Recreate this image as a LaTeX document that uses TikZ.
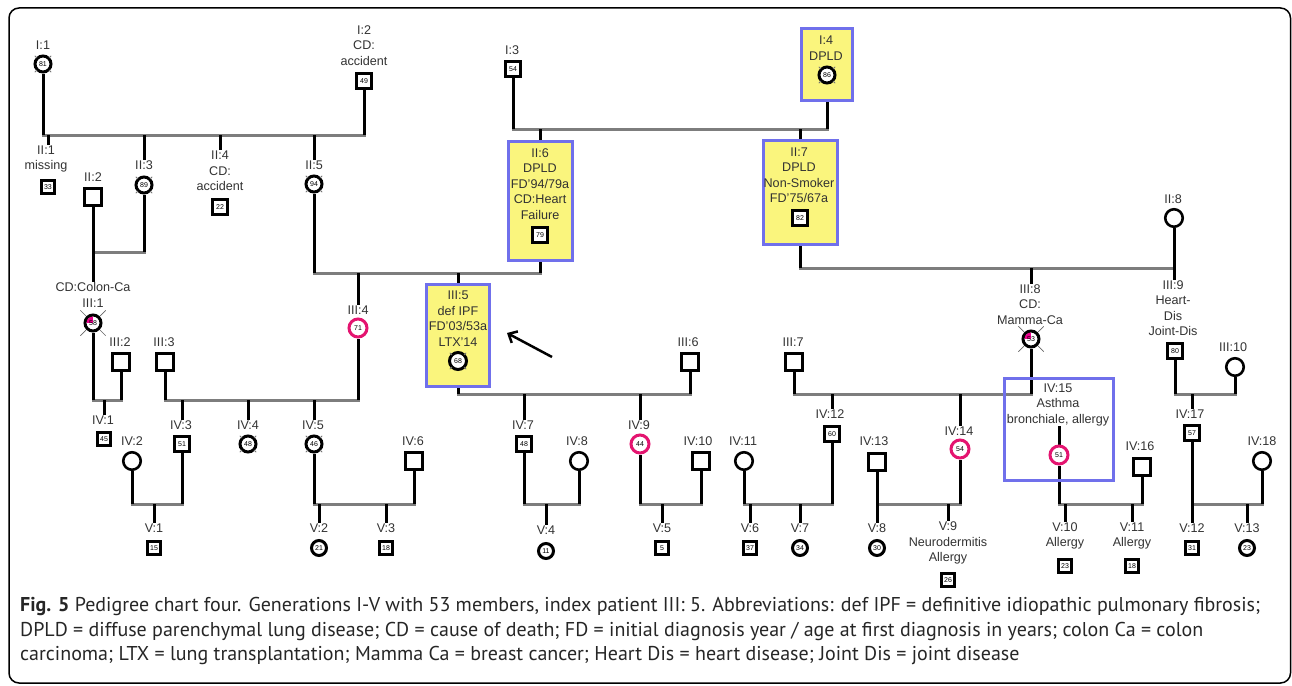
\documentclass[tikz,border=0pt]{standalone}
\usepackage{fontspec}
\setmainfont{Liberation Sans}
\newfontfamily\capfont{PT Sans}
\usetikzlibrary{arrows.meta,calc,backgrounds}
\definecolor{lnGray}{RGB}{125,125,125}
\definecolor{txt}{RGB}{50,50,50}
\definecolor{boxYellow}{RGB}{250,245,125}
\definecolor{boxBlue}{RGB}{112,112,235}
\definecolor{pinkC}{RGB}{228,20,112}
\newcommand\gear[1]{\foreach \a in {45,135,225,315}{\draw[gtk] ($(#1.center)+(\a:8.5)$) -- ($(#1.center)+(\a:11.5)$);}}
\newcommand\longtk[1]{\foreach \a in {45,135,225,315}{\draw[ltk] ($(#1.center)+(\a:10)$) -- ($(#1.center)+(\a:18)$);}}
\begin{document}
\begin{tikzpicture}[x=1pt,y=-1pt,
  vl/.style={line width=3pt,black},
  hl/.style={line width=3pt,lnGray,line cap=rect},
  lb/.style={font=\fontsize{12.6}{15.5}\selectfont,text=txt,inner sep=0.5pt,align=center},
  num/.style={font=\fontsize{7}{7}\selectfont,inner sep=0},
  sqo/.style={draw,line width=2.6pt,minimum size=16.5pt,inner sep=0,fill=white},
  sqn/.style={draw,line width=3pt,minimum size=15pt,inner sep=0,fill=white,font=\fontsize{7}{7}\selectfont},
  cio/.style={circle,draw,line width=2.6pt,minimum size=17.5pt,inner sep=0,fill=white},
  cin/.style={circle,draw,line width=3pt,minimum size=16pt,inner sep=0,fill=white,font=\fontsize{7}{7}\selectfont},
  cip/.style={cin,draw=pinkC,minimum size=18pt},
  ybox/.style={draw=boxBlue,fill=boxYellow,line width=3pt,inner sep=0},
  wbox/.style={draw=boxBlue,line width=3pt,inner sep=0},
  gtk/.style={line width=1pt,black!55},
  ltk/.style={line width=0.7pt,black!60},
  frame/.style={line width=1.5pt,rounded corners=10pt}]
\useasboundingbox (0,0) rectangle (1292,685);
\draw[frame] (9,8) rectangle (1290.5,683);

\coordinate (r129) at (0,129);
\coordinate (r135) at (0,135);
\coordinate (r252) at (0,252);
\coordinate (r268) at (0,268);
\coordinate (r273) at (0,273);
\coordinate (r394) at (0,394);
\coordinate (r400) at (0,400);
\coordinate (r504) at (0,504);

% ---------- Generation I
\node[lb] (lI1) at (43,45) {I:1};
\node[cin] (I1) at (43,64) {81};
\node[lb] (lI2) at (364,45.5) {I:2\\CD:\\accident};
\node[sqn] (I2) at (364,81) {49};
\node[lb] (lI3) at (512,50) {I:3};
\node[sqn] (I3) at (513,69) {54};
\node[ybox,minimum width=51,minimum height=72] (bI4) at (827,64.5) {};
\node[lb] (lI4) at (826,48) {I:4\\DPLD};
\node[cin] (I4) at (827,75) {86};

% ---------- Generation II
\node[lb] (lII1) at (46,159) {II:1\\missing};
\node[sqn,minimum size=13pt] (II1) at (48,187) {33};
\node[lb] (lII2) at (93,177) {II:2};
\node[sqo] (II2) at (93,197) {};
\node[lb] (lII3) at (144,165) {II:3};
\node[cin] (II3) at (144,185) {89};
\node[lb] (lII4) at (220,171) {II:4\\CD:\\accident};
\node[sqn] (II4) at (220,207) {22};
\node[lb] (lII5) at (314,165) {II:5};
\node[cin] (II5) at (314,184) {94};
\node[ybox,minimum width=64,minimum height=119] (bII6) at (540,201) {};
\node[lb] (lII6) at (540,184) {II:6\\DPLD\\FD'94/79a\\CD:Heart\\Failure};
\node[sqn] (II6) at (540,235) {79};
\node[ybox,minimum width=74,minimum height=104] (bII7) at (800,192.5) {};
\node[lb] (lII7) at (799,175) {II:7\\DPLD\\Non-Smoker\\FD'75/67a};
\node[sqn] (II7) at (800,218) {82};
\node[lb] (lII8) at (1173,199) {II:8};
\node[cio] (II8) at (1174,218) {};

% ---------- Generation III
\node[lb] (lIII1) at (93,295) {CD:Colon-Ca\\III:1};
\node[cin] (III1) at (93,323) {};
\begin{scope}
\clip (93,323) circle (6.5);
\fill[magenta] (93,323) rectangle ++(-8,-8);
\end{scope}
\node[num] (nIII1) at (III1.center) {58};
\node[lb] (lIII2) at (120,342) {III:2};
\node[sqo] (III2) at (121,362) {};
\node[lb] (lIII3) at (164,342) {III:3};
\node[sqo] (III3) at (165,362) {};
\node[lb] (lIII4) at (358,310) {III:4};
\node[cip] (III4) at (358,328) {71};
\node[ybox,minimum width=63,minimum height=102] (bIII5) at (458,335.5) {};
\node[lb] (lIII5) at (458,318.5) {III:5\\def IPF\\FD'03/53a\\LTX'14};
\node[cin,minimum size=17pt] (III5) at (458,361) {68};
\coordinate (arT) at (552,357);
\coordinate (arH) at (507,333);
\node[lb] (lIII6) at (688,342) {III:6};
\node[sqo] (III6) at (690,362) {};
\node[lb] (lIII7) at (793,342) {III:7};
\node[sqo] (III7) at (794,362) {};
\node[lb] (lIII8) at (1030,304.5) {III:8\\CD:\\Mamma-Ca};
\node[cin] (III8) at (1031,339) {};
\begin{scope}
\clip (1031,339) circle (6.5);
\fill[magenta] (1031,339) rectangle ++(-8,-8);
\end{scope}
\node[num] (nIII8) at (III8.center) {53};
\node[lb] (lIII9) at (1173,308) {III:9\\Heart-\\Dis\\Joint-Dis};
\node[sqn] (III9) at (1175,351) {80};
\node[lb] (lIII10) at (1233,347) {III:10};
\node[cio] (III10) at (1235,367) {};

% ---------- Generation IV
\node[lb] (lIV1) at (103,420) {IV:1};
\node[sqn,minimum size=13pt] (IV1) at (104,439) {45};
\node[lb] (lIV2) at (132,441) {IV:2};
\node[cio] (IV2) at (132,461) {};
\node[lb] (lIV3) at (181,425) {IV:3};
\node[sqn] (IV3) at (182,444) {51};
\node[lb] (lIV4) at (248,425) {IV:4};
\node[cin] (IV4) at (248,444) {48};
\node[lb] (lIV5) at (313,425) {IV:5};
\node[cin] (IV5) at (314,444) {46};
\node[lb] (lIV6) at (413,441) {IV:6};
\node[sqo] (IV6) at (414,461) {};
\node[lb] (lIV7) at (523,425) {IV:7};
\node[sqn] (IV7) at (524,444) {48};
\node[lb] (lIV8) at (577,441) {IV:8};
\node[cio] (IV8) at (579,461) {};
\node[lb] (lIV9) at (639,425) {IV:9};
\node[cip] (IV9) at (640,444) {44};
\node[lb] (lIV10) at (698,441) {IV:10};
\node[sqo] (IV10) at (701,461) {};
\node[lb] (lIV11) at (743,441) {IV:11};
\node[cio] (IV11) at (744,461) {};
\node[lb] (lIV12) at (830,414) {IV:12};
\node[sqn] (IV12) at (832,434) {60};
\node[lb] (lIV13) at (874,441) {IV:13};
\node[sqo] (IV13) at (877,462) {};
\node[lb] (lIV14) at (959,431) {IV:14};
\node[cip] (IV14) at (960,449) {54};
\node[wbox,minimum width=109,minimum height=102] (bIV15) at (1059,429.5) {};
\node[lb] (lIV15) at (1058,404.5) {IV:15\\Asthma\\bronchiale, allergy};
\node[cip] (IV15) at (1059,455) {51};
\node[lb] (lIV16) at (1140,446) {IV:16};
\node[sqo] (IV16) at (1142,467) {};
\node[lb] (lIV17) at (1190,414) {IV:17};
\node[sqn] (IV17) at (1192,433) {57};
\node[lb] (lIV18) at (1262,441) {IV:18};
\node[cio] (IV18) at (1262,461) {};

% ---------- Generation V
\node[lb] (lV1) at (154,528) {V:1};
\node[sqn,minimum size=13pt] (V1) at (154,548) {15};
\node[lb] (lV2) at (319,528) {V:2};
\node[cin,minimum size=15pt] (V2) at (319,548) {21};
\node[lb] (lV3) at (386,528) {V:3};
\node[sqn,minimum size=13pt] (V3) at (386,548) {18};
\node[lb] (lV4) at (546,530) {V:4};
\node[cin,minimum size=15pt] (V4) at (546,551) {11};
\node[lb] (lV5) at (662,528) {V:5};
\node[sqn,minimum size=13pt] (V5) at (662,548) {5};
\node[lb] (lV6) at (750,528) {V:6};
\node[sqn,minimum size=13pt] (V6) at (750,548) {37};
\node[lb] (lV7) at (800,528) {V:7};
\node[cin,minimum size=15pt] (V7) at (800,548) {34};
\node[lb] (lV8) at (877,528) {V:8};
\node[cin,minimum size=15pt] (V8) at (877,548) {30};
\node[lb] (lV9) at (948,543) {V:9\\Neurodermitis\\Allergy};
\node[sqn,minimum size=13pt] (V9) at (948,580) {26};
\node[lb] (lV10) at (1065,536) {V:10\\Allergy};
\node[sqn,minimum size=13pt] (V10) at (1065,566) {23};
\node[lb] (lV11) at (1132,536) {V:11\\Allergy};
\node[sqn,minimum size=13pt] (V11) at (1132,566) {18};
\node[lb] (lV12) at (1192,528) {V:12};
\node[sqn,minimum size=13pt] (V12) at (1192,548) {31};
\node[lb] (lV13) at (1247,528) {V:13};
\node[cin,minimum size=15pt] (V13) at (1247,548) {23};

% deceased marks
\gear{I1} \gear{I4} \gear{II3} \gear{II5} \gear{III5} \gear{IV4} \gear{IV5}
\longtk{III1} \longtk{III8}

% proband arrow
\draw[line width=2.5pt,-{Straight Barb[length=7pt,width=13pt]}] (arT) -- (arH);

% ---------- connectors
\begin{scope}[on background layer]
% gen I
\draw[hl] (I1.south |- r135) -- (I2.south |- r135);
\draw[vl] (I1.south) -- (I1.south |- r135);
\draw[vl] (I2.south) -- (I2.south |- r135);
\draw[hl] (I3.south |- r129) -- (bI4.south |- r129);
\draw[vl] (I3.south) -- (I3.south |- r129);
\draw[vl] (bI4.south) -- (bI4.south |- r129);
\draw[vl] (II1 |- r135) -- (II1 |- lII1.north);
\draw[vl] (II3 |- r135) -- (II3 |- lII3.north);
\draw[vl] (II4 |- r135) -- (II4 |- lII4.north);
\draw[vl] (II5 |- r135) -- (II5 |- lII5.north);
\draw[vl] (bII6.north |- r129) -- (bII6.north);
\draw[vl] (bII7.north |- r129) -- (bII7.north);
% gen II couples
\draw[hl] (II2.south |- r252) -- (II3.south |- r252);
\draw[vl] (II2.south) -- (II2.south |- lIII1.north);
\draw[vl] (II3.south) -- (II3.south |- r252);
\draw[hl] (II5.south |- r273) -- (bII6.south |- r273);
\draw[vl] (II5.south) -- (II5.south |- r273);
\draw[vl] (bII6.south) -- (bII6.south |- r273);
\draw[vl] (III4 |- r273) -- (III4 |- lIII4.north);
\draw[vl] (bIII5.north |- r273) -- (bIII5.north);
\draw[hl] (bII7.south |- r268) -- (II8.south |- r268);
\draw[vl] (bII7.south) -- (bII7.south |- r268);
\draw[vl] (II8.south) -- (II8.south |- lIII9.north);
\draw[vl] (III8 |- r268) -- (III8 |- lIII8.north);
% gen III couples
\draw[hl] (III1.south |- r400) -- (III2.south |- r400);
\draw[vl] (III1.south) -- (III1.south |- r400);
\draw[vl] (III2.south) -- (III2.south |- r400);
\draw[vl] (IV1 |- r400) -- (IV1 |- lIV1.north);
\draw[hl] (III3.south |- r400) -- (III4.south |- r400);
\draw[vl] (III3.south) -- (III3.south |- r400);
\draw[vl] (III4.south) -- (III4.south |- r400);
\draw[vl] (IV3 |- r400) -- (IV3 |- lIV3.north);
\draw[vl] (IV4 |- r400) -- (IV4 |- lIV4.north);
\draw[vl] (IV5 |- r400) -- (IV5 |- lIV5.north);
\draw[hl] (bIII5.south |- r394) -- (III6.south |- r394);
\draw[vl] (bIII5.south) -- (bIII5.south |- r394);
\draw[vl] (III6.south) -- (III6.south |- r394);
\draw[vl] (IV7 |- r394) -- (IV7 |- lIV7.north);
\draw[vl] (IV9 |- r394) -- (IV9 |- lIV9.north);
\draw[hl] (III7.south |- r394) -- (III8.south |- r394);
\draw[vl] (III7.south) -- (III7.south |- r394);
\draw[vl] (III8.south) -- (III8.south |- r394);
\draw[vl] (IV12 |- r394) -- (IV12 |- lIV12.north);
\draw[vl] (IV14 |- r394) -- (IV14 |- lIV14.north);
\draw[vl] (IV15 |- lIV15.south) -- (IV15.north);
\draw[hl] (III9.south |- r394) -- (III10.south |- r394);
\draw[vl] (III9.south) -- (III9.south |- r394);
\draw[vl] (III10.south) -- (III10.south |- r394);
\draw[vl] (IV17 |- r394) -- (IV17 |- lIV17.north);
% gen IV couples
\draw[hl] (IV2.south |- r504) -- (IV3.south |- r504);
\draw[vl] (IV2.south) -- (IV2.south |- r504);
\draw[vl] (IV3.south) -- (IV3.south |- r504);
\draw[vl] (V1 |- r504) -- (V1 |- lV1.north);
\draw[hl] (IV5.south |- r504) -- (IV6.south |- r504);
\draw[vl] (IV5.south) -- (IV5.south |- r504);
\draw[vl] (IV6.south) -- (IV6.south |- r504);
\draw[vl] (V2 |- r504) -- (V2 |- lV2.north);
\draw[vl] (V3 |- r504) -- (V3 |- lV3.north);
\draw[hl] (IV7.south |- r504) -- (IV8.south |- r504);
\draw[vl] (IV7.south) -- (IV7.south |- r504);
\draw[vl] (IV8.south) -- (IV8.south |- r504);
\draw[vl] (V4 |- r504) -- (V4 |- lV4.north);
\draw[hl] (IV9.south |- r504) -- (IV10.south |- r504);
\draw[vl] (IV9.south) -- (IV9.south |- r504);
\draw[vl] (IV10.south) -- (IV10.south |- r504);
\draw[vl] (V5 |- r504) -- (V5 |- lV5.north);
\draw[hl] (IV11.south |- r504) -- (IV12.south |- r504);
\draw[vl] (IV11.south) -- (IV11.south |- r504);
\draw[vl] (IV12.south) -- (IV12.south |- r504);
\draw[vl] (V6 |- r504) -- (V6 |- lV6.north);
\draw[vl] (V7 |- r504) -- (V7 |- lV7.north);
\draw[hl] (IV13.south |- r504) -- (IV14.south |- r504);
\draw[vl] (IV13.south) -- (IV13.south |- lV8.north);
\draw[vl] (IV14.south) -- (IV14.south |- r504);
\draw[vl] (V9 |- r504) -- (V9 |- lV9.north);
\draw[hl] (IV15.south |- r504) -- (IV16.south |- r504);
\draw[vl] (IV15.south) -- (IV15.south |- r504);
\draw[vl] (IV16.south) -- (IV16.south |- r504);
\draw[vl] (V10 |- r504) -- (V10 |- lV10.north);
\draw[vl] (V11 |- r504) -- (V11 |- lV11.north);
\draw[hl] (IV17.south |- r504) -- (IV18.south |- r504);
\draw[vl] (IV17.south) -- (IV17.south |- lV12.north);
\draw[vl] (IV18.south) -- (IV18.south |- r504);
\draw[vl] (V13 |- r504) -- (V13 |- lV13.north);
\end{scope}

% ---------- caption
\begin{scope}[every node/.style={anchor=west,inner sep=0,font=\capfont\fontsize{20}{22}\selectfont,text=black!85}]
\node (cap1) at (20,606) {\textbf{Fig. 5} Pedigree chart four. Generations I-V with 53 members, index patient III: 5. Abbreviations: def IPF = definitive idiopathic pulmonary fibrosis;};
\node (cap2) at (20,631) {DPLD = diffuse parenchymal lung disease; CD = cause of death; FD = initial diagnosis year / age at first diagnosis in years; colon Ca = colon};
\node (cap3) at (20,655) {carcinoma; LTX = lung transplantation; Mamma Ca = breast cancer; Heart Dis = heart disease; Joint Dis = joint disease};
\end{scope}
\end{tikzpicture}
\end{document}
